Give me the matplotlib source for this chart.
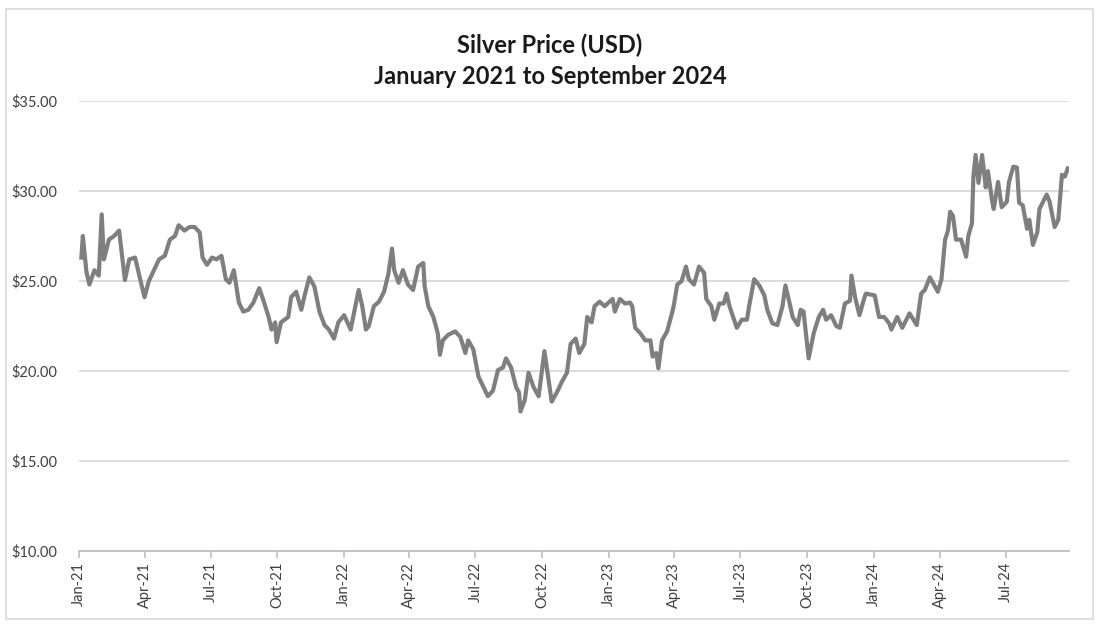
import matplotlib
matplotlib.use('Agg')
import matplotlib.pyplot as plt
import matplotlib.dates as mdates
from matplotlib.patches import Rectangle
from matplotlib.ticker import FuncFormatter
import pandas as pd

# silver price (USD / oz)
dates = [
    '2021-01-04', '2021-01-06', '2021-01-11', '2021-01-15', '2021-01-22', '2021-01-28',
    '2021-02-01', '2021-02-04', '2021-02-11', '2021-02-18', '2021-02-25', '2021-03-01',
    '2021-03-05', '2021-03-11', '2021-03-19', '2021-03-26', '2021-04-01', '2021-04-07',
    '2021-04-14', '2021-04-21', '2021-04-29', '2021-05-06', '2021-05-13', '2021-05-18',
    '2021-05-26', '2021-06-02', '2021-06-09', '2021-06-16', '2021-06-20', '2021-06-26',
    '2021-07-03', '2021-07-09', '2021-07-16', '2021-07-22', '2021-07-27', '2021-08-02',
    '2021-08-09', '2021-08-15', '2021-08-22', '2021-08-29', '2021-09-06', '2021-09-12',
    '2021-09-19', '2021-09-23', '2021-09-28', '2021-09-30', '2021-10-06', '2021-10-16',
    '2021-10-20', '2021-10-27', '2021-11-03', '2021-11-07', '2021-11-14', '2021-11-21',
    '2021-11-28', '2021-12-05', '2021-12-11', '2021-12-18', '2021-12-24', '2022-01-01',
    '2022-01-10', '2022-01-14', '2022-01-21', '2022-01-26', '2022-01-31', '2022-02-04',
    '2022-02-11', '2022-02-18', '2022-02-25', '2022-03-03', '2022-03-08', '2022-03-11',
    '2022-03-17', '2022-03-23', '2022-03-30', '2022-04-06', '2022-04-13', '2022-04-20',
    '2022-04-22', '2022-04-27', '2022-05-04', '2022-05-10', '2022-05-13', '2022-05-17',
    '2022-05-24', '2022-06-03', '2022-06-10', '2022-06-17', '2022-06-21', '2022-06-28',
    '2022-07-05', '2022-07-12', '2022-07-18', '2022-07-25', '2022-08-01', '2022-08-08',
    '2022-08-12', '2022-08-19', '2022-08-26', '2022-08-30', '2022-09-01', '2022-09-07',
    '2022-09-12', '2022-09-19', '2022-09-26', '2022-10-04', '2022-10-10', '2022-10-14',
    '2022-10-21', '2022-10-28', '2022-11-04', '2022-11-09', '2022-11-16', '2022-11-21',
    '2022-11-28', '2022-12-02', '2022-12-08', '2022-12-12', '2022-12-19', '2022-12-26',
    '2023-01-03', '2023-01-06', '2023-01-09', '2023-01-16', '2023-01-23', '2023-01-30',
    '2023-02-02', '2023-02-06', '2023-02-13', '2023-02-20', '2023-02-27', '2023-03-02',
    '2023-03-07', '2023-03-10', '2023-03-15', '2023-03-22', '2023-03-28', '2023-03-31',
    '2023-04-05', '2023-04-11', '2023-04-17', '2023-04-21', '2023-04-28', '2023-05-05',
    '2023-05-12', '2023-05-15', '2023-05-22', '2023-05-26', '2023-06-02', '2023-06-08',
    '2023-06-12', '2023-06-16', '2023-06-26', '2023-07-03', '2023-07-10', '2023-07-13',
    '2023-07-20', '2023-07-27', '2023-08-03', '2023-08-07', '2023-08-14', '2023-08-21',
    '2023-08-28', '2023-09-01', '2023-09-06', '2023-09-11', '2023-09-18', '2023-09-22',
    '2023-09-26', '2023-09-29', '2023-10-03', '2023-10-10', '2023-10-17', '2023-10-23',
    '2023-10-27', '2023-11-03', '2023-11-10', '2023-11-15', '2023-11-22', '2023-11-29',
    '2023-12-01', '2023-12-06', '2023-12-12', '2023-12-19', '2023-12-21', '2024-01-02',
    '2024-01-08', '2024-01-15', '2024-01-22', '2024-01-25', '2024-02-02', '2024-02-09',
    '2024-02-19', '2024-02-26', '2024-02-29', '2024-03-06', '2024-03-11', '2024-03-18',
    '2024-03-25', '2024-03-29', '2024-04-03', '2024-04-08', '2024-04-12', '2024-04-15',
    '2024-04-19', '2024-04-23', '2024-04-30', '2024-05-07', '2024-05-10', '2024-05-15',
    '2024-05-17', '2024-05-20', '2024-05-24', '2024-05-29', '2024-06-03', '2024-06-06',
    '2024-06-12', '2024-06-14', '2024-06-20', '2024-06-25', '2024-07-02', '2024-07-05',
    '2024-07-11', '2024-07-16', '2024-07-19', '2024-07-24', '2024-07-30', '2024-08-02',
    '2024-08-07', '2024-08-13', '2024-08-16', '2024-08-26', '2024-08-30', '2024-09-04',
    '2024-09-06', '2024-09-11', '2024-09-16', '2024-09-20', '2024-09-24',
]
prices = [
    26.3, 27.5, 25.5, 24.8, 25.6, 25.3,
    28.7, 26.2, 27.3, 27.5, 27.8, 26.4,
    25.05, 26.2, 26.3, 25.1, 24.1, 25.0,
    25.6, 26.2, 26.4, 27.3, 27.5, 28.1,
    27.8, 28.0, 28.0, 27.7, 26.3, 25.9,
    26.3, 26.2, 26.4, 25.1, 24.9, 25.6,
    23.8, 23.3, 23.4, 23.8, 24.6, 23.9,
    23.0, 22.3, 22.7, 21.6, 22.7, 23.0,
    24.1, 24.4, 23.4, 24.1, 25.2, 24.7,
    23.3, 22.55, 22.3, 21.8, 22.7, 23.1,
    22.3, 23.1, 24.5, 23.6, 22.3, 22.5,
    23.6, 23.85, 24.4, 25.4, 26.8, 25.6,
    24.9, 25.6, 24.8, 24.5, 25.8, 26.0,
    24.7, 23.6, 23.0, 22.1, 20.9, 21.7,
    22.0, 22.2, 21.9, 21.0, 21.7, 21.2,
    19.7, 19.1, 18.6, 18.9, 20.05, 20.2,
    20.7, 20.2, 19.1, 18.8, 17.75, 18.4,
    19.9, 19.1, 18.6, 21.1, 19.4, 18.3,
    18.8, 19.4, 19.9, 21.5, 21.8, 21.0,
    21.5, 23.0, 22.7, 23.6, 23.85, 23.6,
    23.9, 24.0, 23.3, 24.0, 23.75, 23.8,
    23.6, 22.4, 22.1, 21.7, 21.7, 20.8,
    21.0, 20.15, 21.7, 22.2, 23.1, 23.6,
    24.8, 25.0, 25.8, 25.1, 24.8, 25.8,
    25.45, 24.0, 23.6, 22.85, 23.75, 23.75,
    24.3, 23.6, 22.4, 22.85, 22.85, 23.6,
    25.1, 24.75, 24.2, 23.4, 22.65, 22.55,
    23.6, 24.75, 23.9, 23.0, 22.55, 23.4,
    23.3, 22.2, 20.7, 22.1, 23.0, 23.4,
    22.85, 23.1, 22.5, 22.4, 23.75, 23.9,
    25.3, 24.1, 23.1, 24.1, 24.3, 24.2,
    23.0, 23.0, 22.65, 22.3, 23.0, 22.4,
    23.2, 22.75, 22.55, 24.3, 24.5, 25.2,
    24.7, 24.4, 25.1, 27.3, 27.8, 28.85,
    28.6, 27.3, 27.3, 26.35, 27.5, 28.2,
    30.8, 32.0, 30.45, 32.0, 30.2, 31.1,
    29.4, 29.0, 30.5, 29.1, 29.4, 30.5,
    31.35, 31.3, 29.35, 29.2, 27.9, 28.4,
    27.0, 27.7, 29.0, 29.8, 29.4, 28.4,
    28.0, 28.4, 30.9, 30.8, 31.25,
]
y_ticks = [10, 15, 20, 25, 30, 35]
title_lines = ['Silver Price (USD)', 'January 2021 to September 2024']

series = pd.Series(prices, index=pd.to_datetime(dates))

plt.rcParams['font.family'] = ['Lato', 'DejaVu Sans']

fig = plt.figure(figsize=(11, 6.3), dpi=100)
fig.patches.append(Rectangle((0.005, 0.018), 0.989, 0.967, transform=fig.transFigure,
                             fill=False, edgecolor='#d9d9d9', linewidth=1.2))
ax = fig.add_axes([0.072, 0.1254, 0.9, 0.7143])

ax.plot(series.index, series.values, color='#7f7f7f', linewidth=3.0, solid_joinstyle='round')

ax.set_ylim(10, 35)
ax.set_yticks(y_ticks)
ax.yaxis.set_major_formatter(FuncFormatter(lambda v, p: f'${v:.2f}'))
ax.set_xlim(pd.Timestamp('2021-01-01'), pd.Timestamp('2024-09-26'))
ax.xaxis.set_major_locator(mdates.MonthLocator(bymonth=[1, 4, 7, 10]))
ax.xaxis.set_major_formatter(mdates.DateFormatter('%b-%y'))

ax.grid(axis='y', color='#d9d9d9', linewidth=1.3)
ax.set_axisbelow(True)
for side in ['top', 'right', 'left']:
    ax.spines[side].set_visible(False)
ax.spines['bottom'].set_color('#bfbfbf')
ax.spines['bottom'].set_linewidth(1.3)

ax.tick_params(axis='y', length=0, pad=16, labelsize=10.5, labelcolor='#404040')
ax.tick_params(axis='x', length=5, color='#bfbfbf', width=1.2, pad=3,
               labelsize=10.5, labelcolor='#404040', labelrotation=90)

fig.text(0.5, 1 - 45 / 630, title_lines[0], ha='center', va='center', fontsize=17,
         fontweight='bold', color='#1a1a1a')
fig.text(0.5, 1 - 77 / 630, title_lines[1], ha='center', va='center', fontsize=17,
         fontweight='bold', color='#1a1a1a')

fig.savefig('out.png', dpi=100, facecolor='white')
